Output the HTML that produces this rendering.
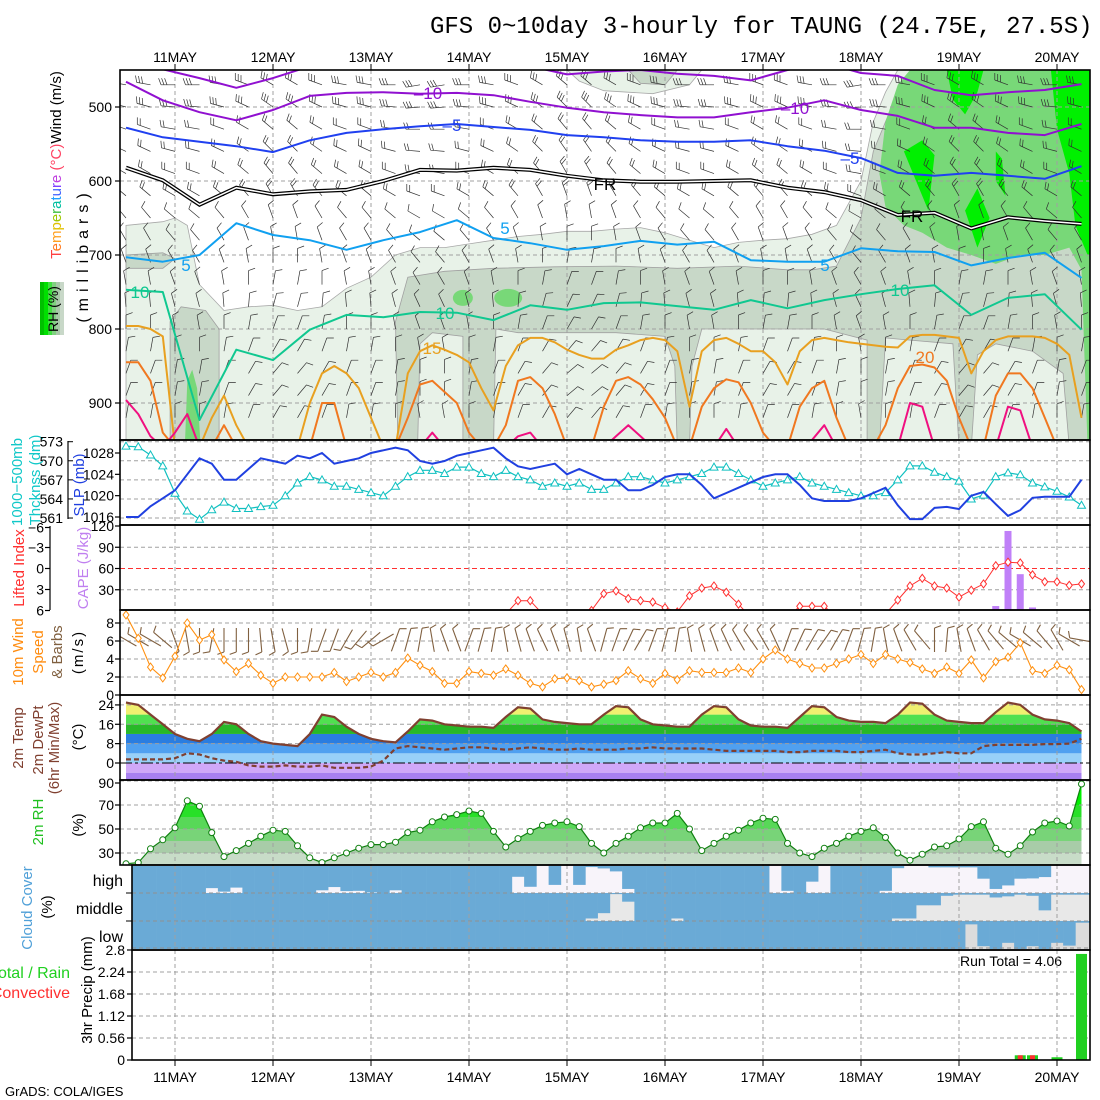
<!DOCTYPE html>
<html><head><meta charset="utf-8">
<style>
html,body{margin:0;padding:0;background:#fff;}
svg{display:block;font-family:"Liberation Sans",sans-serif;}
</style></head>
<body>
<svg id="chart" width="1100" height="1100" viewBox="0 0 1100 1100" xmlns="http://www.w3.org/2000/svg">
<rect x="0" y="0" width="1100" height="1100" fill="#fff"/>
<text x="430" y="33" font-family="Liberation Mono, monospace" font-size="24">GFS 0~10day 3-hourly for TAUNG (24.75E, 27.5S)</text>

<text transform="translate(61,165) rotate(-90)" text-anchor="middle" font-size="15"><tspan fill="#ff4040">T</tspan><tspan fill="#ff7a20">e</tspan><tspan fill="#ffa020">m</tspan><tspan fill="#e0c000">p</tspan><tspan fill="#a0c800">e</tspan><tspan fill="#40c040">r</tspan><tspan fill="#00c0a0">a</tspan><tspan fill="#20a0ff">t</tspan><tspan fill="#4060ff">u</tspan><tspan fill="#8040ff">r</tspan><tspan fill="#c040e0">e</tspan><tspan fill="#ff4060"> (°C)</tspan><tspan fill="#000">Wind (m/s)</tspan></text>
<text transform="translate(88,255) rotate(-90)" text-anchor="middle" font-size="16" letter-spacing="6">(millibars)</text>
<g>
<rect x="40" y="282" width="4" height="53" fill="#00c000"/><rect x="44" y="282" width="4" height="53" fill="#00e000"/><rect x="48" y="282" width="4" height="53" fill="#40e040"/><rect x="52" y="282" width="4" height="53" fill="#80d080"/><rect x="56" y="282" width="4" height="53" fill="#a8c8a8"/><rect x="60" y="282" width="4" height="53" fill="#c8d8c8"/>
</g>
<text transform="translate(58,309) rotate(-90)" text-anchor="middle" font-size="14">RH (%)</text>

<text transform="translate(22,482) rotate(-90)" text-anchor="middle" font-size="15" fill="#10c8c8">1000−500mb</text>
<text transform="translate(40,480) rotate(-90)" text-anchor="middle" font-size="15" fill="#10c8c8">Thcknss (dm)</text>
<text transform="translate(84,485) rotate(-90)" text-anchor="middle" font-size="15" fill="#2040e0">SLP (mb)</text>
<text transform="translate(24,568) rotate(-90)" text-anchor="middle" font-size="15" fill="#ff3030">Lifted Index</text>
<text transform="translate(88,568) rotate(-90)" text-anchor="middle" font-size="15" fill="#c080f0">CAPE (J/kg)</text>
<text transform="translate(23,652) rotate(-90)" text-anchor="middle" font-size="15" fill="#ff8c10">10m Wind</text>
<text transform="translate(43,652) rotate(-90)" text-anchor="middle" font-size="15" fill="#ff8c10">Speed</text>
<text transform="translate(62,652) rotate(-90)" text-anchor="middle" font-size="15" fill="#806040">&amp; Barbs</text>
<text transform="translate(83,652) rotate(-90)" text-anchor="middle" font-size="15" letter-spacing="2">(m/s)</text>
<text transform="translate(23,738) rotate(-90)" text-anchor="middle" font-size="15" fill="#804030">2m Temp</text>
<text transform="translate(43,740) rotate(-90)" text-anchor="middle" font-size="15" fill="#804030">2m DewPt</text>
<text transform="translate(59,748) rotate(-90)" text-anchor="middle" font-size="15" fill="#804030">(6hr Min/Max)</text>
<text transform="translate(83,737) rotate(-90)" text-anchor="middle" font-size="15">(°C)</text>
<text transform="translate(43,822) rotate(-90)" text-anchor="middle" font-size="15" fill="#20c020">2m RH</text>
<text transform="translate(83,825) rotate(-90)" text-anchor="middle" font-size="15">(%)</text>
<text transform="translate(32,908) rotate(-90)" text-anchor="middle" font-size="15" fill="#50a0d8">Cloud Cover</text>
<text transform="translate(52,907) rotate(-90)" text-anchor="middle" font-size="15">(%)</text>
<text x="123" y="886" text-anchor="end" font-size="16">high</text>
<text x="123" y="914" text-anchor="end" font-size="16">middle</text>
<text x="123" y="942" text-anchor="end" font-size="16">low</text>
<text x="70" y="978" text-anchor="end" font-size="16" fill="#20d020">Total / Rain</text>
<text x="70" y="998" text-anchor="end" font-size="16" fill="#ff3030">Convective</text>
<text transform="translate(92,990) rotate(-90)" text-anchor="middle" font-size="15">3hr Precip (mm)</text>
<text x="960" y="966" font-size="14">Run Total = 4.06</text>
<text x="5" y="1096" font-size="13">GrADS: COLA/IGES</text>
</svg>
<script>
const days=['11MAY','12MAY','13MAY','14MAY','15MAY','16MAY','17MAY','18MAY','19MAY','20MAY'];
const pressTicks=[500,600,700,800,900];
const slpTicks=[1016,1020,1024,1028];
const thkTicks=[561,564,567,570,573];
const liTicks=[-6,-3,0,3,6];
const capeTicks=[30,60,90,120];
const wsTicks=[0,2,4,6,8];
const tTicks=[0,8,16,24];
const rhTicks=[30,50,70,90];
const prTicks=[0,0.56,1.12,1.68,2.24,2.8];

const slp=[1016,1016,1018,1019.5,1021,1024,1027,1026,1023,1023,1025,1027,1026.5,1026,1027.5,1027,1028,1026,1026.5,1027,1028,1028.5,1029,1028.5,1026.5,1026,1026.5,1027.5,1028,1028.5,1029,1027,1025.5,1025,1025.5,1026,1024,1025,1024,1023,1023,1021,1021,1022,1023.5,1024,1024,1022,1019.5,1020.5,1021.5,1022.5,1023.5,1024,1024,1022,1019.5,1019,1019,1019,1019.5,1020.5,1021.5,1018.2,1015.6,1015.6,1017.7,1017.9,1017.5,1020,1020.7,1018.4,1016.2,1017.3,1019.6,1019.8,1019.8,1019.8,1023];
const thick=[572.3,572.2,570.9,569.2,564.9,562.1,560.8,562.3,563.5,562.5,562.5,562.8,563,564.5,566.5,567.5,567,566,566,565.5,565,564.5,566,567.5,568.5,568.5,568,569,569,568,567.5,568.5,567.5,567,566,566.5,566,566.5,565.5,565.5,566.5,567.5,567.5,567,566.5,567,567.5,568,569,569,568,567,566,566.5,567,567.5,566.5,566,565.5,565,564.5,564.5,565,567,569.2,569.2,568.2,567.5,566.8,564,564.6,567.5,568.1,567.8,566.5,565.9,565.2,564.3,563];
const liftedIndex=[8,8,8,8,8,8,8,8,8,8,8,8,8,8,8,8,8,8,8,8,8,8,8,8,8,8,8,8,8,8,8,6.5,4.6,4.6,6.5,8,8,8,6,3.6,3.2,4.3,4.6,4.8,5.6,6.2,3.9,2.8,2.5,3.4,5.1,7,8,8,7,5.4,5.4,5.4,7,8,8,8,6.5,4.5,2.5,1.4,2.5,2.8,4.1,3.1,2.2,-0.4,-0.9,-0.8,0.9,1.9,1.9,2.4,2.2];
const cape=[0,0,0,0,0,0,0,0,0,0,0,0,0,0,0,0,0,0,0,0,0,0,0,0,0,0,0,0,0,0,0,0,0,0,0,0,0,0,0,0,0,0,0,0,0,0,0,0,0,0,0,0,0,0,0,0,0,0,0,0,0,0,0,0,0,0,0,0,0,0,0,7,113,52,5,0,0,0,0];
const windSpd=[8.9,6.3,3.1,1.9,4.3,8,6.1,6.7,3.9,2.6,3.5,2.2,1.3,2,2,2,2,2.5,1.5,2,2.5,2,2.5,4.1,3.3,2.6,1.3,1.3,2.6,2.4,2.2,2.9,2.2,1.3,0.9,1.8,1.9,1.6,0.9,1.2,1.6,2.7,1.8,1.3,2.4,1.7,2.7,2.5,2.5,2.5,3,2.5,4,5,4,3.5,3,3,3.5,4,4.5,3.5,4.5,4,3.6,2.9,2.4,3.1,2.4,3.9,1.9,3.7,4.2,5.8,2.7,2.4,3.3,2.8,0.6];
const windDir=[300,300,300,310,160,170,180,190,180,180,180,175,170,165,180,190,200,200,210,220,230,240,20,15,10,350,340,340,20,15,10,350,345,340,335,340,345,350,340,15,20,25,30,20,15,10,350,345,340,335,330,325,330,335,20,25,30,35,30,20,15,10,350,340,330,320,0,5,350,340,330,320,310,300,310,320,330,300,280];
const temp2m=[25,24,20,16,12,10,9,12,17,16,12,9,8,7.5,7,12,20,19,15,12,10,9,8.5,13,18,17.5,16,15.5,15,15,14.5,19,23,22.5,18,17,16.5,16,16,20,23.5,23,18,16,15.5,15,15,20,23.5,23,18,15.5,15,15,14.5,19,23.5,23,19,17.5,17,17,16.5,20,25,24.5,20,17.5,17,16.5,16.5,21,25,24,20,18,17.5,16.5,13];
const dewpt2m=[1.5,1.5,1.5,1.5,2,4,3.5,2,1,0.5,-1,-1.5,-1.5,-1,-1.5,-1.5,-1,-2,-2,-2,-1.5,1,6,7,6.5,6,5.5,6,6.5,6.5,6,5.5,6,6.5,6,5.5,5.5,6,5.5,5.5,5.5,6,6,6.5,6,6,6,6,5.5,5,5,5,5,5,4.5,4.5,5,5,5,4.5,4.5,5,5.5,4,3.5,3.5,4,4.5,4,4,7,7.5,7.5,7.5,7.5,7.8,7.8,8,10];
const rh2m=[21,22,33.5,41,51,73.5,69,47,27,32,38,44,49,48,36,26,22,26,30,34,37,37,39,47,49,56,60,62,65,63,48,35,42,48,53,55,56,52,38,30,38,44,51,55,55,63,50,32,38,44,49,55,59,58,38,30,27,34,38,44,48,51,43,30,24,29,35,36,41.7,52,56,34,29,36,47.5,55,56.7,52.5,87.5];
const cloudHigh=[100,100,100,100,100,100,100,82,95,80,100,100,100,100,100,100,90,78,93,92,98,100,90,100,100,100,100,100,100,100,100,100,40,77,0,70,0,70,4,9,20,85,100,100,100,100,100,100,100,100,100,100,100,0,92,100,58,0,100,100,100,100,92,8,0,0,5,5,5,5,47,85,72,47,46,41,0,0,0];
const cloudMid=[100,100,100,100,100,100,100,100,100,100,100,100,100,100,100,100,100,100,100,100,100,100,100,100,100,100,100,100,100,100,100,100,100,100,100,100,100,100,91,72,4,31,100,100,100,91,100,100,100,100,100,100,100,100,100,100,100,100,100,100,100,100,100,91,91,44,44,10,6,6,6,16,12,6,10,62,6,6,6];
const cloudLow=[100,100,100,100,100,100,100,100,100,100,100,100,100,100,100,100,100,100,100,100,100,100,100,100,100,100,100,100,100,100,100,100,100,100,100,100,100,100,100,100,100,100,100,100,100,100,100,100,100,100,100,100,100,100,100,100,100,100,100,100,100,100,100,100,100,100,100,100,100,12,90,100,78,100,90,100,78,88,6];
const precipTotal=[0,0,0,0,0,0,0,0,0,0,0,0,0,0,0,0,0,0,0,0,0,0,0,0,0,0,0,0,0,0,0,0,0,0,0,0,0,0,0,0,0,0,0,0,0,0,0,0,0,0,0,0,0,0,0,0,0,0,0,0,0,0,0,0,0,0,0,0,0,0,0,0,0,0.12,0.12,0,0.07,0,2.7];
const precipConv=[0,0,0,0,0,0,0,0,0,0,0,0,0,0,0,0,0,0,0,0,0,0,0,0,0,0,0,0,0,0,0,0,0,0,0,0,0,0,0,0,0,0,0,0,0,0,0,0,0,0,0,0,0,0,0,0,0,0,0,0,0,0,0,0,0,0,0,0,0,0,0,0,0,0.12,0.12,0,0,0,0];

const isoTimes=[0,3,6,9,12,15,18,21,24,27,30,33,36,39,42,45,48,51,54,57,60,63,66,69,72,75,78];
const isoM15=[440,449,461,474,461,445,440,440,440,440,440,445,456,452,450,455,458,464,450,440,454,458,477,484,480,477,469];
const isoM10=[466,491,507,518,504,485,481,480,482,481,484,493,501,507,511,514,514,507,501,491,504,512,528,528,535,538,523];
const isoM5=[528,541,547,553,561,545,535,530,526,523,527,531,538,541,545,547,547,545,553,559,569,589,593,589,593,597,580];
const iso0=[582,599,632,609,618,614,612,600,585,586,582,585,593,599,601,601,600,599,609,615,626,646,643,664,649,654,658];
const iso5=[703,709,700,657,673,680,693,680,669,653,677,684,693,688,681,686,682,707,709,709,691,695,696,714,704,697,731];
const iso10=[747,750,923,828,842,801,781,784,777,778,788,768,774,765,764,769,774,761,772,761,753,746,741,781,758,753,801];
const iso15=[796,796,800,810,960,960,960,920,890,930,960,960,960,960,960,900,860,850,860,880,920,960,960,860,830,822,828,835,845,880,910,850,822,812,812,818,828,835,840,840,828,822,815,812,815,830,905,830,815,812,820,830,830,845,875,830,815,812,815,818,820,822,824,825,810,808,808,810,812,860,830,815,810,810,810,812,820,835,920];
const iso20=[845,845,870,940,960,960,960,960,930,960,960,960,960,960,960,960,900,900,960,960,960,960,960,920,875,870,885,900,940,960,960,930,870,865,880,915,960,960,960,905,870,865,875,895,920,960,960,905,880,868,872,900,940,960,960,905,880,870,920,960,960,960,930,880,850,848,852,870,920,960,960,890,860,860,880,920,960,960,960];
const iso25=[896,915,945,960,940,915,960,960,960,960,960,960,960,960,960,960,960,960,960,960,960,960,960,960,960,940,960,960,960,960,960,960,945,940,960,960,960,960,960,960,945,930,945,960,960,960,960,960,960,935,960,960,960,960,960,960,950,930,960,960,960,960,960,960,900,905,960,960,960,960,960,960,905,910,960,960,960,960,960];

const rhLightPoly=[[0,660],[3,655],[4,650],[5,660],[6,740],[8,775],[10,770],[12,768],[14,775],[16,770],[18,745],[20,730],[22,700],[24,690],[26,690],[28,685],[30,680],[32,675],[34,672],[36,668],[38,668],[40,665],[42,663],[44,670],[46,680],[48,690],[50,683],[52,680],[54,678],[56,672],[58,660],[60,600],[61,520],[62,480],[63,450],[79,450],[79,960],[0,960]];
const rhLightTopPoly=[[36,450],[37,465],[39,478],[43,482],[46,470],[47,450]];
const rhGrayPoly=[[22,790],[23,730],[26,722],[30,718],[35,716],[40,715],[45,718],[50,715],[54,720],[56,720],[58,715],[60,650],[61,560],[62,520],[63,480],[64,465],[66,458],[70,455],[75,452],[79,450],[79,960],[77,960],[76.5,860],[74,830],[71,820],[69.5,835],[69,960],[68,960],[67.5,820],[64,815],[62,812],[61.5,960],[60.5,960],[60.5,815],[57,800],[52,800],[47,800],[46.2,850],[46,960],[45,960],[44.8,850],[44,810],[40,805],[32,805],[30.2,800],[30,960],[27.5,960],[27.5,810],[25,805],[24,820],[23.8,960],[22.2,960]];
const rhGrayLeftCol=[[3.6,790],[4.5,770],[6.5,775],[7.6,800],[7.6,960],[3.6,960]];
const rhGrayLeftBand=[[0,700],[3,697],[4,705],[3,718],[0,718]];
const rhGrayTopPoly=[[41,450],[42,468],[44,470],[45,450]];
const rhGreenPoly=[[63,470],[62,520],[61.5,590],[62,635],[63.5,660],[65,670],[67,690],[69,700],[71,712],[73,700],[75,700],[77,690],[78,720],[78.5,960],[79,960],[79,450],[64,450]];
const rhGreenLeftCol=[[4.8,960],[5,870],[5.4,855],[5.8,880],[6.1,960]];
const rhGreenBlobs=[[27.5,758],[31.2,758]];
const rhBrightPolys=[
 [[67,450],[67.5,490],[68.5,510],[69.5,480],[70,450]],
 [[75.5,450],[76,530],[77,590],[77.5,660],[78.5,700],[79,700],[79,450]],
 [[63.5,560],[65,545],[66,565],[65.5,640],[64.5,600]],
 [[68.5,640],[69.5,610],[70.5,650],[69.5,690]],
 [[71,560],[71.5,570],[71.8,620],[71,600]]
];
const barbLevels=[470,500,530,560,590,620,650,680,710,740,770,800,830,860,890,920];
const barbDirLevel=[280,285,290,295,300,310,320,330,340,350,355,0,10,20,20,10];
const barbSpdLevel=[14,13,12,11,9,8,7,6,5,5,5,4,4,4,4,3];
const barbColShift=[0,0,-10,-10,0,10,20,20,10,0,0,-10,-20,-20,-10,0,10,20,30,30,20,10,0,-10,-10,0,10,10,0,-10,-20,-10,0,10,20,20,10,0,-10,0];

const NS='http://www.w3.org/2000/svg';
const svg=document.getElementById('chart');
function mk(tag,attrs,parent){const e=document.createElementNS(NS,tag);for(const k in attrs)e.setAttribute(k,attrs[k]);(parent||svg).appendChild(e);return e;}
const X0=126,DX=12.25;
function xAt(i){return X0+DX*i;}
function dayX(d){return xAt(4+8*d);}
function yP(p){return 107+(p-500)*0.74;}
function ySlp(v){return 517-(v-1016)*64/12;}
function yThk(v){return 441.7+(573-v)*6.36;}
function yCape(v){return 611-v*85/120;}
function yLI(v){return 568.5+v*7;}
function yWs(v){return 695-v*9;}
function yT(v){return 763-v*2.42;}
function yRH(v){return 781+(90-v)*1.2;}
function yPr(v){return 1060-v*110/2.8;}
function pathOf(pts){return pts.map((p,k)=>(k?'L':'M')+p[0].toFixed(1)+','+p[1].toFixed(1)).join(' ');}

const defs=mk('defs',{});
function clip(id,x,y,w,h){const c=mk('clipPath',{id:id},defs);mk('rect',{x:x,y:y,width:w,height:h},c);}
clip('cMain',120,70,970,370);clip('cSlp',120,440,970,85);clip('cLi',120,525,970,85);
clip('cWs',120,610,970,85);clip('cT',120,695,970,85);clip('cRh',120,780,970,85);
clip('cCl',132,865,958,85);clip('cPr',132,950,958,110);

const gMain=mk('g',{'clip-path':'url(#cMain)'});


function polyP(pts,fill,stroke,name){
  const e=mk('path',{d:pathOf(pts.map(q=>[xAt(q[0]),yP(q[1])]))+' Z',fill:fill,stroke:stroke,'stroke-width':0.8},gMain);
  
  
}
polyP(rhLightPoly,'#e8f2e8','#a8a8a8','rh-30-region');
polyP(rhLightTopPoly,'#e8f2e8','#a8a8a8','rh-30-upper-region');
polyP(rhGrayPoly,'#c8d8c8','#a0a0a0','rh-50-region');
polyP(rhGrayLeftCol,'#c8d8c8','#a0a0a0','rh-50-left-column');
polyP(rhGrayLeftBand,'#c8d8c8','#a0a0a0','rh-50-left-band');
polyP(rhGrayTopPoly,'#c8d8c8','#a0a0a0','rh-50-upper-region');
polyP(rhGreenPoly,'#78d878','none','rh-70-region');
polyP(rhGreenLeftCol,'#78d878','none','rh-70-left-column');
rhGreenBlobs.forEach((b,k)=>{
  const e=mk('ellipse',{cx:xAt(b[0]),cy:yP(b[1]),rx:k?14:10,ry:k?9:8,fill:'#78d878'},gMain);
  
  
});
rhBrightPolys.forEach(pp=>polyP(pp,'#00f000','none','rh-90-region'));

pressTicks.forEach(p=>{
  const e=mk('line',{x1:120,x2:1090,y1:yP(p),y2:yP(p),stroke:'#a0a0a0','stroke-dasharray':'4,3'},gMain);
  
  
});
days.forEach((d,k)=>{
  const e=mk('line',{x1:dayX(k),x2:dayX(k),y1:70,y2:440,stroke:'#a0a0a0','stroke-dasharray':'4,3'},gMain);
  
  
});

function barb(g,x,y,dir,len,nf,color,w){
  const r=dir*Math.PI/180;const ux=Math.sin(r),uy=-Math.cos(r);
  const ex=x+ux*len,ey=y+uy*len;
  let d='M'+x.toFixed(1)+','+y.toFixed(1)+' L'+ex.toFixed(1)+','+ey.toFixed(1);
  const fr=r+70*Math.PI/180;const fx=Math.sin(fr),fy=-Math.cos(fr);
  for(let f=0;f<nf;f++){const bx=ex-ux*f*3,by=ey-uy*f*3;d+=' M'+bx.toFixed(1)+','+by.toFixed(1)+' L'+(bx+fx*7).toFixed(1)+','+(by+fy*7).toFixed(1);}
  return mk('path',{d:d,stroke:color,'stroke-width':w,fill:'none'},g);
}
for(let c=0;c<40;c++){
  for(let l=0;l<barbLevels.length;l++){
    const e=barb(gMain,xAt(c*2),yP(barbLevels[l]),barbDirLevel[l]+barbColShift[c],14,Math.max(1,Math.round(barbSpdLevel[l]/5)),'#303030',0.7);
    
    
  }
}
function iso(arr,times,color,w,name,dbl){
  const pts=arr.map((v,k)=>[xAt(times?times[k]:k),yP(v)]);
  if(dbl){
    const a=mk('path',{d:pathOf(pts),stroke:'#000','stroke-width':4,fill:'none'},gMain);
    
    
    const b=mk('path',{d:pathOf(pts),stroke:'#fff','stroke-width':1.5,fill:'none'},gMain);
    
    
    return;
  }
  const e=mk('path',{d:pathOf(pts),stroke:color,'stroke-width':w,fill:'none','stroke-linejoin':'round'},gMain);
  
  
}
iso(isoM15,isoTimes,'#9010d0',2,'isotherm-minus15');
iso(isoM10,isoTimes,'#9010d0',2,'isotherm-minus10');
iso(isoM5,isoTimes,'#2040f0',2,'isotherm-minus5');
iso(iso0,isoTimes,'#000',2,'isotherm-freezing',true);
iso(iso5,isoTimes,'#10a0f0',2,'isotherm-5');
iso(iso10,isoTimes,'#10c890',2,'isotherm-10');
iso(iso15,null,'#e8a020',2,'isotherm-15');
iso(iso20,null,'#f07820',2,'isotherm-20');
iso(iso25,null,'#f01080',2,'isotherm-25');
const isoLabels=[[428,99,'–10','#9010d0'],[795,114,'–10','#9010d0'],[452,131,'–5','#2040f0'],[850,164,'–5','#2040f0'],[605,190,'FR','#000'],[912,222,'FR','#000'],[505,234,'5','#10a0f0'],[186,271,'5','#10a0f0'],[825,271,'5','#10a0f0'],[140,298,'10','#10c890'],[445,319,'10','#10c890'],[900,296,'10','#10c890'],[432,354,'15','#e8a020'],[925,363,'20','#f07820']];
isoLabels.forEach(L=>{
  const e=mk('text',{x:L[0],y:L[1],'font-size':17,fill:L[3],'text-anchor':'middle'},gMain);
  e.textContent=L[2];
  
  
});

function frame(x0,y0,x1,y1,name){
  const e=mk('rect',{x:x0,y:y0,width:x1-x0,height:y1-y0,fill:'none',stroke:'#000','stroke-width':1.6});
  
  
}
function ytick(x,y,label,anchorX,name,len){
  const t=mk('line',{x1:x,x2:x-(len||5),y1:y,y2:y,stroke:'#000','stroke-width':1.2});
  
  
  const e=mk('text',{x:anchorX,y:y+5,'font-size':14,'text-anchor':'end'});
  e.textContent=label;
  
  
}
function hgrid(g,y,x0,color,dash){
  const e=mk('line',{x1:x0,x2:1090,y1:y,y2:y,stroke:color||'#a0a0a0','stroke-dasharray':dash||'4,3'},g);
  
  
}
function vgrid(g,y0,y1){
  days.forEach((d,k)=>{
    const e=mk('line',{x1:dayX(k),x2:dayX(k),y1:y0,y2:y1,stroke:'#a0a0a0','stroke-dasharray':'4,3'},g);
    
    
  });
}
pressTicks.forEach(p=>ytick(120,yP(p),String(p),112,'pressure-axis'));

const g2=mk('g',{'clip-path':'url(#cSlp)'});


thkTicks.forEach(v=>hgrid(g2,yThk(v),120));
vgrid(g2,440,525);
const thkLine=mk('path',{d:pathOf(thick.map((v,i)=>[xAt(i),yThk(v)])),stroke:'#10c0c0','stroke-width':1.2,fill:'none'},g2);


thick.forEach((v,i)=>{
  const x=xAt(i),y=yThk(v);
  const e=mk('path',{d:`M${x-4},${y+3} L${x+4},${y+3} L${x},${y-4} Z`,stroke:'#10c0c0','stroke-width':1,fill:'#fff'},g2);
  
  
});
const slpLine=mk('path',{d:pathOf(slp.map((v,i)=>[xAt(i),ySlp(v)])),stroke:'#2040e0','stroke-width':2,fill:'none'},g2);


const thkAxis=mk('line',{x1:68,x2:68,y1:441,y2:519,stroke:'#000','stroke-width':1.2});


thkTicks.forEach(v=>{
  const t=mk('line',{x1:68,x2:73,y1:yThk(v),y2:yThk(v),stroke:'#000'});
  
  
  const e=mk('text',{x:63,y:yThk(v)+5,'font-size':14,'text-anchor':'end'});
  e.textContent=String(v);
  
  
});
slpTicks.forEach(v=>ytick(120,ySlp(v),String(v),114,'slp-axis'));

const g3=mk('g',{'clip-path':'url(#cLi)'});


[30,90].forEach(v=>hgrid(g3,yCape(v),120));
hgrid(g3,yLI(0),120,'#ff3030','5,3');
vgrid(g3,525,610);
cape.forEach((v,i)=>{ if(v<=0) return;
  const e=mk('rect',{x:xAt(i)-3.5,y:yCape(v),width:7,height:611-yCape(v),fill:'#c080f8'},g3);
  
  
});
const liLine=mk('path',{d:pathOf(liftedIndex.map((v,i)=>[xAt(i),yLI(v)])),stroke:'#ff3030','stroke-width':1,fill:'none'},g3);


liftedIndex.forEach((v,i)=>{ if(v>6.5) return;
  const x=xAt(i),y=yLI(v);
  const e=mk('path',{d:`M${x},${y-4} L${x+3},${y} L${x},${y+4} L${x-3},${y} Z`,stroke:'#ff3030',fill:'#fff'},g3);
  
  
});
const liAxis=mk('line',{x1:50,x2:50,y1:526,y2:610,stroke:'#000','stroke-width':1.2});


liTicks.forEach(v=>ytick(50,yLI(v)-(v===-6?-1:0),String(v).replace('-','−'),44,'lifted-index-axis'));
capeTicks.forEach(v=>ytick(120,yCape(v),String(v),114,'cape-axis'));

const g4=mk('g',{'clip-path':'url(#cWs)'});


[2,4,6,8].forEach(v=>hgrid(g4,yWs(v),120));
vgrid(g4,610,695);
windDir.forEach((d,i)=>{
  const r=d*Math.PI/180;
  const e=barb(g4,xAt(i)-Math.sin(r)*12,640+Math.cos(r)*12,d,24,1,'#806040',1.1);
  
  
});
const wsLine=mk('path',{d:pathOf(windSpd.map((v,i)=>[xAt(i),yWs(v)])),stroke:'#ff9010','stroke-width':1.1,fill:'none'},g4);


windSpd.forEach((v,i)=>{
  const x=xAt(i),y=yWs(v);
  const e=mk('path',{d:`M${x},${y-4} L${x+3},${y} L${x},${y+4} L${x-3},${y} Z`,stroke:'#ff9010',fill:'#fff'},g4);
  
  
});
wsTicks.forEach(v=>ytick(120,yWs(v),String(v),114,'wind-speed-axis'));

const g5=mk('g',{'clip-path':'url(#cT)'});


const tClip=mk('clipPath',{id:'cTfill'},defs);
mk('path',{d:pathOf(temp2m.map((v,i)=>[xAt(i),yT(v)]))+` L${xAt(78)},790 L${xAt(0)},790 Z`},tClip);
const gTf=mk('g',{'clip-path':'url(#cTfill)'},g5);
const tBands=[[-12,-4,'#a880f0'],[-4,0,'#d0a8f8'],[0,4,'#98d0f8'],[4,8,'#50a0f0'],[8,12,'#2a7de0'],[12,16,'#28b828'],[16,20,'#50e050'],[20,30,'#f0f070']];
tBands.forEach(b=>{
  const e=mk('rect',{x:120,y:yT(b[1]),width:970,height:yT(b[0])-yT(b[1]),fill:b[2]},gTf);
  
  
});
[8,16,24].forEach(v=>hgrid(g5,yT(v),120));
hgrid(g5,yT(0),120,'#000','12,3,3,3');
vgrid(g5,695,780);
const tLine=mk('path',{d:pathOf(temp2m.map((v,i)=>[xAt(i),yT(v)])),stroke:'#804030','stroke-width':2.2,fill:'none'},g5);


const dLine=mk('path',{d:pathOf(dewpt2m.map((v,i)=>[xAt(i),yT(v)])),stroke:'#804030','stroke-width':2.2,'stroke-dasharray':'5,3',fill:'none'},g5);


tTicks.forEach(v=>ytick(120,yT(v),String(v),114,'temperature-axis'));

const g6=mk('g',{'clip-path':'url(#cRh)'});


const rClip=mk('clipPath',{id:'cRfill'},defs);
mk('path',{d:pathOf(rh2m.map((v,i)=>[xAt(i),yRH(v)]))+` L${xAt(78)},870 L${xAt(0)},870 Z`},rClip);
const gRf=mk('g',{'clip-path':'url(#cRfill)'},g6);
const rBands=[[0,30,'#c8dcc8'],[30,40,'#a8cca8'],[40,50,'#78d478'],[50,60,'#58d858'],[60,70,'#28e028'],[70,110,'#00f000']];
rBands.forEach(b=>{
  const e=mk('rect',{x:120,y:yRH(b[1]),width:970,height:yRH(b[0])-yRH(b[1]),fill:b[2]},gRf);
  
  
});
rhTicks.forEach(v=>hgrid(g6,yRH(v),120));
vgrid(g6,780,865);
const rLine=mk('path',{d:pathOf(rh2m.map((v,i)=>[xAt(i),yRH(v)])),stroke:'#108010','stroke-width':1.2,fill:'none'},g6);


rh2m.forEach((v,i)=>{
  const e=mk('circle',{cx:xAt(i),cy:yRH(v),r:3,stroke:'#108010',fill:'#fff'},g6);
  
  
});
rhTicks.forEach(v=>ytick(120,yRH(v)+(v===90?2:0),String(v),114,'rh-axis'));

const g7=mk('g',{'clip-path':'url(#cCl)'});


const cBands=[[cloudHigh,866,893,'#f8f4fa','cloud-high-bar'],[cloudMid,893,921,'#e8e8e8','cloud-middle-bar'],[cloudLow,921,949,'#dcdcdc','cloud-low-bar']];
cBands.forEach(b=>{
  const bg=mk('rect',{x:132,y:b[1],width:958,height:b[2]-b[1],fill:b[3]},g7);
  
  
  b[0].forEach((v,i)=>{
    const x0=i===0?132:xAt(i)-DX/2, x1=i===78?1090:xAt(i)+DX/2;
    const e=mk('rect',{x:x0,y:b[1],width:x1-x0+0.3,height:(b[2]-b[1])*v/100,fill:'#6aaad6'},g7);
    
    
  });
});
[893,921,948].forEach(y=>hgrid(g7,y,132,'#909090'));
vgrid(g7,865,950);
[893,921].forEach(y=>{
  const t=mk('line',{x1:126,x2:132,y1:y,y2:y,stroke:'#000'});
  
  
});

const g8=mk('g',{'clip-path':'url(#cPr)'});


prTicks.slice(1).forEach(v=>hgrid(g8,yPr(v),132));
vgrid(g8,950,1060);
precipTotal.forEach((v,i)=>{ if(v<=0) return;
  const e=mk('rect',{x:xAt(i)-5.5,y:yPr(v),width:11,height:1060-yPr(v),fill:'#20d020'},g8);
  
  
});
precipConv.forEach((v,i)=>{ if(v<=0) return;
  const e=mk('rect',{x:xAt(i)-2.5,y:yPr(v),width:5,height:1060-yPr(v),fill:'#ff3030'},g8);
  
  
});
prTicks.forEach(v=>ytick(132,yPr(v),String(v),125,'precip-axis'));

frame(120,70,1090,440,'upper-air-frame');
frame(120,440,1090,525,'slp-frame');
frame(120,525,1090,610,'cape-frame');
frame(120,610,1090,695,'wind-frame');
frame(120,695,1090,780,'temperature-frame');
frame(120,780,1090,865,'rh-frame');
frame(132,865,1090,950,'cloud-frame');
frame(132,950,1090,1060,'precip-frame');

days.forEach((d,k)=>{
  const x=dayX(k);
  const t1=mk('line',{x1:x,x2:x,y1:64,y2:70,stroke:'#000'});
  
  
  const a=mk('text',{x:x,y:62,'font-size':14,'text-anchor':'middle'});
  a.textContent=d;
  
  
  const t2=mk('line',{x1:x,x2:x,y1:1060,y2:1066,stroke:'#000'});
  
  
  const b=mk('text',{x:x,y:1082,'font-size':14,'text-anchor':'middle'});
  b.textContent=d;
  
  
});
</script>
</body></html>
